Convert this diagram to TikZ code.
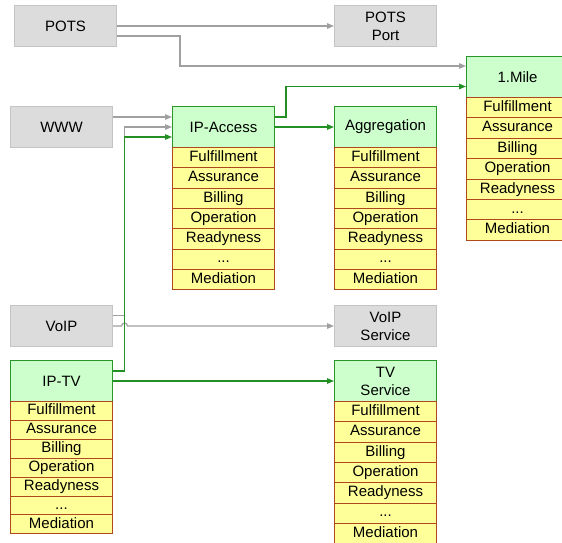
\documentclass[tikz,border=0pt]{standalone}
\usepackage{fontspec}
\setmainfont{Liberation Sans}
\usetikzlibrary{arrows.meta}
\definecolor{gfill}{HTML}{DCDCDC}
\definecolor{gdraw}{HTML}{C4C4C4}
\definecolor{hfill}{HTML}{CCFFCC}
\definecolor{hdraw}{HTML}{2A962A}
\definecolor{rfill}{HTML}{FFFF99}
\definecolor{rdraw}{HTML}{B0481E}
\definecolor{lgray}{HTML}{A0A0A0}
\definecolor{lgreen}{HTML}{229022}
\newcommand\mydots{...}
\tikzset{
  base/.style={rectangle, inner sep=0pt, minimum width=102pt, anchor=north west,
    font=\fontsize{15}{18}\selectfont, align=center, line width=1pt},
  graybox/.style={base, draw=gdraw, fill=gfill, minimum height=41pt},
  headbox/.style={base, draw=hdraw, fill=hfill, minimum height=41pt},
  rowbox/.style={base, draw=rdraw, fill=rfill, text height=10.8pt, text depth=3.2pt},
  grayconn/.style={draw=lgray, line width=1.2pt, -{Triangle[length=7pt,width=5.5pt]}},
  greenconn/.style={draw=lgreen, line width=1.2pt, -{Triangle[length=7pt,width=5.5pt]}}
}
\newcommand\mystack[5]{%
  \node[headbox] (#1) at (#2,#3) {#4};
  \foreach \t [count=\i] in {Fulfillment,Assurance,Billing,Operation,Readyness,\mydots,Mediation}
    \node[rowbox, minimum height=#5pt] (#1\i) at (#2,{#3+41+(\i-1)*#5}) {\t};
}
\begin{document}
\begin{tikzpicture}[x=1pt,y=-1pt]
\useasboundingbox (0,0) rectangle (562,542);
% gray boxes
\node[graybox] (pots) at (14,5) {POTS};
\node[graybox] (potsport) at (334,5) {POTS\\Port};
\node[graybox] (www) at (10,106) {WWW};
\node[graybox] (voip) at (10,305) {VoIP};
\node[graybox] (vs) at (334,305) {VoIP\\Service};
% stacks
\mystack{mile}{466}{56}{1.Mile}{20.4}
\mystack{ipa}{172}{106}{IP-Access}{20.3}
\mystack{agg}{334}{106}{Aggregation}{20.3}
\mystack{iptv}{10}{360}{IP-TV}{18.9}
\mystack{tvs}{334}{360}{TV\\Service}{20.3}
% coordinates
\coordinate (j1) at (180,66);
% gray connectors
\draw[grayconn] (pots.east) -- (potsport.west);
\draw[grayconn] ([yshift=-10pt]pots.east) -| (j1) -- (j1 -| mile.west);
\draw[grayconn] ([yshift=10pt]www.east) -- ([yshift=10pt]ipa.west);
\draw[grayconn] ([yshift=10.5pt]voip.east) -- ++(11.5,0) |- (ipa.west);
\draw[grayconn] (voip.east) -- ++(8.5,0) arc[start angle=180,end angle=0,radius=3pt] -- (vs.west);
% green connectors
\draw[greenconn] ([yshift=10pt]iptv.east) -- ++(11.5,0) |- ([yshift=-10pt]ipa.west);
\draw[greenconn] (iptv.east) -- (tvs.west);
\draw[greenconn] (ipa.east) -- (agg.west);
\draw[greenconn] ([yshift=10pt]ipa.east) -- ++(11,0) |- ([yshift=-9.5pt]mile.west);
\end{tikzpicture}
\end{document}
